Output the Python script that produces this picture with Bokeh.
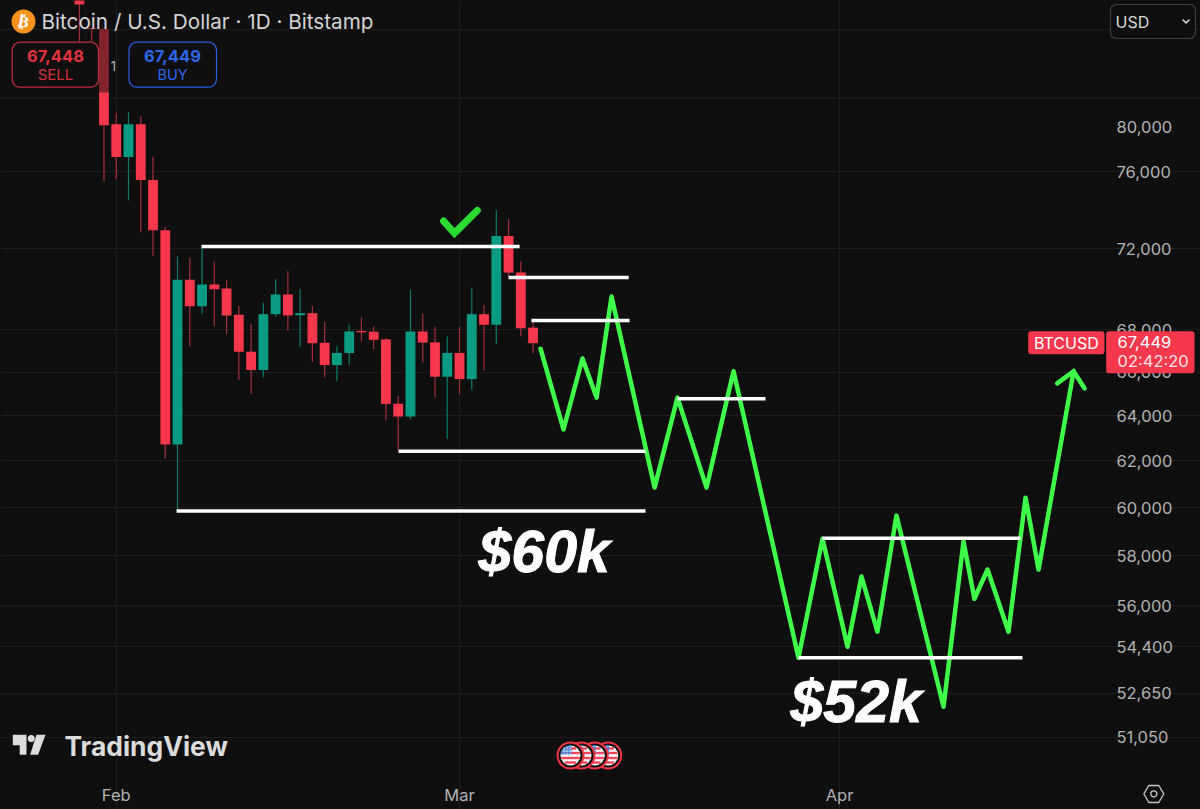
from math import sqrt

from bokeh.embed import file_html
from bokeh.models import BoxAnnotation, FixedTicker, Label, NumeralTickFormatter, PolyAnnotation, Range1d
from bokeh.plotting import figure
from bokeh.resources import INLINE

# daily candles, Jan 29 .. Mar 7 (days counted from Feb 1)
candle_days = list(range(-3, 35))
candle_open = [86800, 84060, 84040, 78580, 76790, 78580, 75560, 72930, 62720, 70440, 69140, 70207, 70010,
               68720, 66950, 66100, 68750, 69710, 68700, 68800, 67380, 66330, 66900, 67940, 67910, 67540,
               64550, 63970, 67920, 67400, 65790, 66900, 65680, 68750, 68240, 72640, 70800, 68100]
candle_high = [87200, 84070, 84100, 79230, 79250, 79030, 76790, 73100, 71600, 71540, 72100, 71340, 70410,
               69150, 68290, 69310, 70460, 70870, 69990, 69150, 68370, 67220, 68240, 68590, 68160, 67590,
               64900, 69960, 68780, 68130, 67680, 68130, 70040, 69200, 74000, 73500, 71350, 68370]
candle_low = [83300, 83300, 75490, 75600, 74475, 72830, 71620, 62120, 59870, 67220, 68770, 68180, 67780,
              65650, 65000, 65760, 68630, 67970, 67170, 66470, 65770, 65580, 66350, 67440, 67070, 63790,
              62450, 63840, 66450, 64840, 62970, 64980, 65170, 66090, 67330, 70570, 67680, 66880]
candle_close = [85500, 84040, 78530, 76790, 78580, 75560, 72930, 62720, 70440, 69140, 70207, 69970, 68690,
                66950, 66100, 68750, 69710, 68690, 68800, 67360, 66330, 66900, 67920, 67880, 67520, 64540,
                63970, 67920, 67390, 65790, 66900, 65680, 68750, 68240, 72640, 70790, 68070, 67360]

# white support / resistance levels
level_price = [72100, 70555, 68450, 64780, 62430, 59850, 58720, 53980]
level_start = [6.96, 32.0, 33.87, 45.78, 23.03, 4.92, 57.61, 55.65]
level_end = [32.9, 41.8, 41.87, 52.96, 43.17, 43.17, 73.76, 73.92]

# green projected path
path_days = [34.61, 36.48, 38.03, 39.18, 40.40, 43.91, 45.78, 48.15, 50.35, 55.65, 57.61, 59.65,
             60.79, 62.09, 63.64, 67.48, 69.11, 70.0, 71.07, 72.78, 74.17, 75.23, 78.09]
path_price = [67100, 63390, 66640, 64830, 69610, 60850, 64830, 60850, 66040, 53980, 58700, 54400,
              57155, 54980, 59660, 52150, 58580, 56270, 57440, 54980, 60420, 57440, 66040]
arrow_days = [76.75, 78.09, 78.99]
arrow_price = [65480, 66040, 65250]
check_days = [26.7, 27.59, 29.45]
check_price = [73410, 72790, 73960]

# axes
grid_prices = [84000, 80000, 76000, 72000, 68000, 66000, 64000, 62000, 60000, 58000, 56000, 54400, 52650, 51050]
label_prices = [78460, 76000, 72000, 68000, 66000, 64000, 62000, 60000, 58000, 56000, 54400, 52650, 51050]
label_texts = ["80,000", "76,000", "72,000", "68,000", "66,000", "64,000", "62,000", "60,000", "58,000",
               "56,000", "54,400", "52,650", "51,050"]
month_days = [0, 28, 59]
month_names = ["Feb", "Mar", "Apr"]

FEB1 = 1769904000000
DAY = 86400000
W, H = 1200, 809
# price scale ends where the chart pane stops, the rest is the scale margins
PANE_RIGHT_DAY = 80.61
PANE_BOTTOM_PRICE = 49745
PANE_TOP_PRICE = 85740

BG = "#0f0f0f"
RED = "#f7374c"
GREEN = "#0a9c82"
RED_WICK = "#a62f3d"
GREEN_WICK = "#0b7b68"
LINE_GREEN = "#3ffb4a"
FONT = "Inter"


def ms(days):
    return [FEB1 + d * DAY for d in days]


p = figure(width=W, height=H, output_backend="svg", toolbar_location=None,
           x_axis_type="datetime", y_axis_type="log", y_axis_location="right",
           x_range=Range1d(FEB1 - 9.44 * DAY, FEB1 + 88.44 * DAY), y_range=Range1d(48510, PANE_TOP_PRICE),
           min_border=0, background_fill_color=BG, border_fill_color=BG, outline_line_color=None)
p.stylesheets = [":host { position: fixed !important; left: 0; top: 0; background: #0f0f0f; }"]

month_ticks = ms(month_days)
p.xaxis.ticker = FixedTicker(ticks=month_ticks)
p.xaxis.major_label_overrides = dict(zip(month_ticks, month_names))
p.yaxis.ticker = FixedTicker(ticks=label_prices)
p.yaxis.formatter = NumeralTickFormatter(format="0,0")
p.yaxis.major_label_overrides = dict(zip(label_prices, label_texts))
p.xaxis.fixed_location = PANE_BOTTOM_PRICE
p.yaxis.fixed_location = FEB1 + PANE_RIGHT_DAY * DAY
p.xgrid.ticker = FixedTicker(ticks=month_ticks)
p.ygrid.ticker = FixedTicker(ticks=grid_prices)
p.xgrid.bounds = (PANE_BOTTOM_PRICE, PANE_TOP_PRICE)
p.ygrid.bounds = (FEB1 - 9.44 * DAY, FEB1 + PANE_RIGHT_DAY * DAY)
p.grid.grid_line_color = "#1d1d1d"
p.grid.grid_line_width = 1
for ax in (p.xaxis[0], p.yaxis[0]):
    ax.axis_line_color = None
    ax.major_tick_line_color = None
    ax.minor_tick_line_color = None
    ax.major_label_text_color = "#b2b2b2"
    ax.major_label_text_font = FONT
    ax.major_label_text_font_size = "16.5px"
p.yaxis.major_label_standoff = 6
p.xaxis.major_label_standoff = 5

# candles
x = ms(candle_days)
up = [c >= o for o, c in zip(candle_open, candle_close)]
p.segment(x, candle_high, x, candle_low, line_width=1.2,
          line_color=[GREEN_WICK if u else RED_WICK for u in up])
p.vbar(x=x, width=0.8 * DAY, bottom=candle_open, top=candle_close, line_color=None,
       fill_color=[GREEN if u else RED for u in up])

# projected path, then levels on top of it
p.line(ms(path_days), path_price, line_color=LINE_GREEN, line_width=4.5, line_join="round", line_cap="round")
p.line(ms(arrow_days), arrow_price, line_color=LINE_GREEN, line_width=4.5, line_join="miter", line_cap="round")
p.segment(ms(level_start), level_price, ms(level_end), level_price, line_color="white", line_width=3.5)
p.line(ms(check_days), check_price, line_color="#2bdc33", line_width=7, line_join="miter", line_cap="round")


# the rest is the trading view chrome, placed by pixel from the top left corner
def box(left, right, top, bottom, fill=None, alpha=1.0, line=None, lw=1.0, radius=0):
    p.add_layout(BoxAnnotation(left=left, right=right, top=H - top, bottom=H - bottom,
                               left_units="screen", right_units="screen", top_units="screen", bottom_units="screen",
                               fill_color=fill, fill_alpha=alpha if fill else 0,
                               line_color=line, line_width=lw, line_alpha=1 if line else 0,
                               border_radius=round(radius), editable=False))


def text(s, x, y, size, color, align="left", font=FONT, style="normal", angle=0, outline=None):
    p.add_layout(Label(x=x, y=H - y, x_units="screen", y_units="screen", text=s, text_color=color,
                       text_font=font, text_font_size=f"{size}px", text_font_style=style,
                       text_align=align, text_baseline="middle", angle=angle, text_outline_color=outline))


def poly(xs, ys, fill=None, line=None, lw=1.0):
    p.add_layout(PolyAnnotation(xs=xs, ys=[H - v for v in ys], xs_units="screen", ys_units="screen",
                                fill_color=fill, fill_alpha=1 if fill else 0,
                                line_color=line, line_width=lw, line_alpha=1 if line else 0, editable=False))


def flag(cx, cy, canton):
    box(cx - 14, cx + 14, cy - 14, cy + 14, fill="#f23645", radius=14)
    box(cx - 12, cx + 12, cy - 12, cy + 12, fill="#111111", radius=12)
    box(cx - 10, cx + 10, cy - 10, cy + 10, fill="#ffffff", radius=10)
    for dy in (-7, -2.5, 2.5, 7):
        half = sqrt(100 - (abs(dy) + 1.2) ** 2)
        box(cx - half, cx + half, cy + dy - 1.2, cy + dy + 1.2, fill="#f7445a")
    for dy in range(-10, -1):
        half = sqrt(100 - (dy + 0.5) ** 2)
        box(cx - half, cx + 1, cy + dy, cy + dy + 1, fill="#2f8bf0")
    if canton:
        for i in range(3):
            for j in range(3):
                box(cx - 7 + 3 * i, cx - 5.8 + 3 * i, cy - 8 + 3 * j, cy - 6.8 + 3 * j, fill="#ffffff")


# dim overlay of the order panel
box(98, 113, 28, 92, fill=BG, alpha=0.5)

# title
box(11, 35, 9, 33, fill="#f7931a", radius=12)
text("₿", 23, 21, 16, "#ffffff", align="center", font="DejaVu Sans", style="bold", angle=-0.2)
text("Bitcoin / U.S. Dollar · 1D · Bitstamp", 41, 21, 20.7, "#d4d4d4")

# sell / buy buttons
box(11.7, 98, 41.7, 86.7, fill=BG, line="#c22f3e", lw=1.2, radius=8)
text("67,448", 55, 55, 16.5, "#e0323f", align="center", style="bold")
text("SELL", 55, 74, 15, "#d8303e", align="center")
box(128.5, 216, 41.7, 86.7, fill=BG, line="#2a5fe0", lw=1.2, radius=8)
text("67,449", 172, 55, 16.5, "#2f66ea", align="center", style="bold")
text("BUY", 172, 74, 14.5, "#2f66ea", align="center")
text("1", 113, 65, 13, "#b2b2b2", align="center")

# currency selector
box(1110, 1195, 4, 38, fill=BG, line="#3d3d3d", lw=1.2, radius=6)
text("USD", 1115, 21, 16, "#d8d8d8")
poly([1181.5, 1182.8, 1185.5, 1188.2, 1189.5, 1185.5], [19.5, 18.8, 21.3, 18.8, 19.5, 23.6], fill="#d8d8d8")

# last price tags
box(1027.7, 1104, 330.7, 353.7, fill=RED, radius=3)
text("BTCUSD", 1065.8, 342.5, 16, "#ffffff", align="center")
box(1105.7, 1194, 330.7, 372.7, fill=RED, radius=3)
text("67,449", 1117, 341.5, 16.5, "#ffffff")
text("02:42:20", 1117, 360.5, 16.5, "#ffe0e3")

# drawn labels
text("$60k", 478, 551, 59, "#ffffff", font="Liberation Sans", style="bold italic", outline="#ffffff")
text("$52k", 790, 701, 59, "#ffffff", font="Liberation Sans", style="bold italic", outline="#ffffff")

# tradingview logo
poly([12.3, 26, 26, 19.2, 19.2, 12.3], [734.3, 734.3, 754.3, 754.3, 744.8, 744.8], fill="#dcdcdc")
box(27.2, 34.2, 734.6, 741.6, fill="#dcdcdc", radius=3.5)
poly([36, 45, 37.6, 29.6], [734.3, 734.3, 754.3, 754.3], fill="#dcdcdc")
text("TradingView", 64, 745, 26.4, "#dcdcdc", style="bold")

# economic event markers
for cx, canton in zip([607.7, 594.3, 581, 570], [False, False, False, True]):
    flag(cx, 755, canton)

# settings hexagon
poly([1143.3, 1148.3, 1158.3, 1163.3, 1158.3, 1148.3], [793.3, 785, 785, 793.3, 802, 802], line="#c8c8c8", lw=1.3)
box(1150.3, 1156.3, 790.3, 796.3, line="#c8c8c8", lw=1.3, radius=3)

open("out.html", "w").write(file_html(p, INLINE))
